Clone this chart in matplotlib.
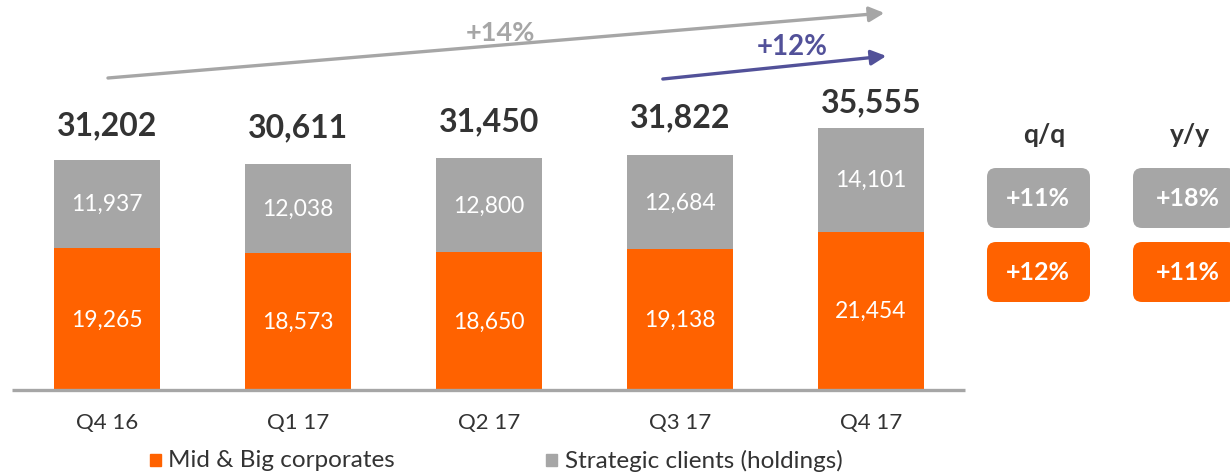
import matplotlib.pyplot as plt
from matplotlib.patches import FancyBboxPatch, Rectangle

plt.rcParams['font.family'] = ['Lato', 'DejaVu Sans']

# Quarterly lending volumes (EUR mln)
quarters = ["Q4 16", "Q1 17", "Q2 17", "Q3 17", "Q4 17"]
mid_big = [19265, 18573, 18650, 19138, 21454]
strategic = [11937, 12038, 12800, 12684, 14101]
totals = [31202, 30611, 31450, 31822, 35555]

# growth callouts
growth_total = "+14%"
growth_last = "+12%"
qq = ["+11%", "+12%"]   # strategic, mid & big
yy = ["+18%", "+11%"]

ORANGE = "#FF6200"
GREY = "#A6A6A6"
DARK = "#333333"
PURPLE = "#525199"

W, H = 1230, 477
fig = plt.figure(figsize=(W / 100, H / 100), dpi=100)

# main axes span the whole canvas; 191 px per bar slot, 135.5 units per px
ax = fig.add_axes([0, 0, 1, 1])
slot, upp, x0, base = 191.0, 135.5, 107.0, 391.0
ax.set_xlim(-x0 / slot, (W - x0) / slot)
ax.set_ylim(-(H - base) * upp, base * upp)
ax.axis("off")

x = list(range(len(quarters)))
ax.bar(x, mid_big, width=0.555, color=ORANGE, zorder=2)
ax.bar(x, strategic, width=0.555, bottom=mid_big, color=GREY, zorder=2)

for i in x:
    ax.text(i, mid_big[i] / 2, f"{mid_big[i]:,}", ha="center", va="center",
            color="white", fontsize=16.5)
    ax.text(i, mid_big[i] + strategic[i] / 2, f"{strategic[i]:,}", ha="center",
            va="center", color="white", fontsize=16.5)

pad_px = [35, 37, 37, 38, 26]
for i in x:
    ax.text(i, totals[i] + pad_px[i] * upp, f"{totals[i]:,}", ha="center",
            va="center", color=DARK, fontsize=23, fontweight="bold")

# baseline
ax.plot([-0.497, 4.49], [0, 0], color=GREY, lw=2.4, solid_capstyle="butt", zorder=3)

for i in x:
    ax.text(i, -32 * upp, quarters[i], ha="center", va="center", color=DARK,
            fontsize=16)

# growth arrows
ax.annotate("", xy=(4.07, 51084), xytext=(0.005, 42276),
            arrowprops=dict(arrowstyle="-|>,head_length=0.9,head_width=0.45",
                            color=GREY, lw=2.4, shrinkA=0, shrinkB=0))
ax.text(2.06, (391 - 33) * upp, growth_total, ha="center", va="center",
        color=GREY, fontsize=19.5, fontweight="bold")
ax.annotate("", xy=(4.08, 45257), xytext=(2.91, 42140),
            arrowprops=dict(arrowstyle="-|>,head_length=0.9,head_width=0.45",
                            color=PURPLE, lw=2.4, shrinkA=0, shrinkB=0))
ax.text(3.59, (391 - 47) * upp, growth_last, ha="center", va="center",
        color=PURPLE, fontsize=20, fontweight="bold")

# legend
ax.add_patch(Rectangle((0.225, -76 * upp), 11 / slot, 12 * upp, color=ORANGE,
                       clip_on=False))
ax.text(0.225 + 18 / slot, -70 * upp, "Mid & Big corporates", va="center",
        color=DARK, fontsize=17.5)
ax.add_patch(Rectangle((2.3, -76 * upp), 11 / slot, 12 * upp, color=GREY,
                       clip_on=False))
ax.text(2.3 + 19 / slot, -70 * upp, "Strategic clients (holdings)", va="center",
        color=DARK, fontsize=17.5)

# q/q and y/y boxes in pixel coordinates
ov = fig.add_axes([0, 0, 1, 1])
ov.set_xlim(0, W)
ov.set_ylim(H, 0)
ov.axis("off")
for cx, head, vals in [(1038, "q/q", qq), (1184, "y/y", yy)]:
    ov.text(cx + 6, 135, head, ha="center", va="center", color=DARK,
            fontsize=19, fontweight="bold")
    for j, (v, c) in enumerate(zip(vals, [GREY, ORANGE])):
        top = 169 + j * 74
        ov.add_patch(FancyBboxPatch((cx - 51, top), 103, 60,
                                    boxstyle="round,pad=0,rounding_size=9",
                                    color=c, lw=0))
        ov.text(cx + (4 if cx > 1100 else 0), top + 30, v, ha="center",
                va="center", color="white", fontsize=18, fontweight="bold")

fig.savefig("out.png", dpi=100)
